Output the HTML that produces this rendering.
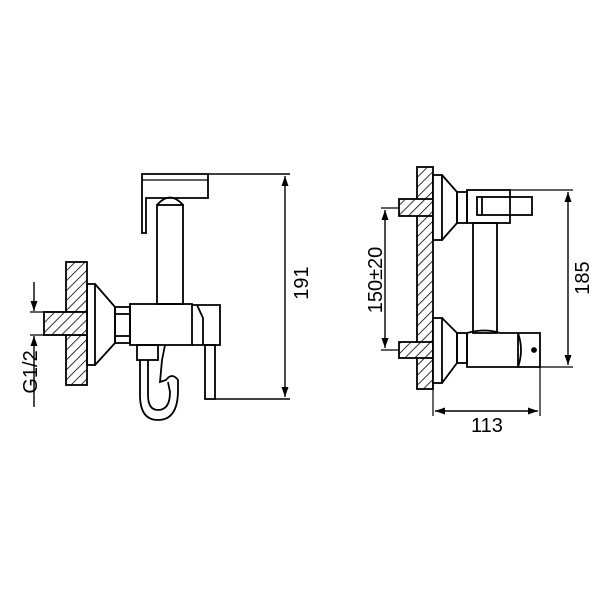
<!DOCTYPE html>
<html><head><style>html,body{margin:0;padding:0;background:#fff}</style></head>
<body>
<svg width="600" height="600" viewBox="0 0 600 600" xmlns="http://www.w3.org/2000/svg" font-family="Liberation Sans, sans-serif">
<defs>
<pattern id="h" width="7" height="7" patternUnits="userSpaceOnUse" patternTransform="rotate(45)">
<rect width="7" height="7" fill="#fff"/><line x1="0" y1="0" x2="0" y2="7" stroke="#000" stroke-width="1.6"/>
</pattern>
<marker id="a" markerWidth="12" markerHeight="10" refX="10" refY="5" orient="auto-start-reverse" markerUnits="userSpaceOnUse">
<path d="M0,1.5 L10,5 L0,8.5 Z" fill="#000"/></marker>
</defs>
<g fill="none" stroke="#000" stroke-width="1.8">
<!-- LEFT -->
<rect x="66" y="262" width="21" height="50" fill="url(#h)"/>
<rect x="66" y="335" width="21" height="50" fill="url(#h)"/>
<rect x="44" y="312" width="43" height="23" fill="url(#h)"/>
<rect x="87" y="284" width="8" height="81"/>
<path d="M95,284 L115,307 L115,343 L95,365"/>
<rect x="115" y="307" width="15" height="36"/>
<line x1="115" y1="314" x2="130" y2="314"/><line x1="115" y1="336" x2="130" y2="336"/>
<rect x="130" y="304" width="62" height="41"/>
<path d="M192,305 L220,305 L220,345 L192,345"/>
<path d="M197,305 L203,318 L203,345"/>
<rect x="205" y="345" width="10" height="54"/>
<line x1="215" y1="399" x2="290" y2="399" stroke-width="1.4"/>
<rect x="157" y="205" width="26" height="99"/>
<path d="M157,205 Q170,190 183,205"/>
<path d="M142,174 L208,174 L208,198 L146,198 L146,233 L142,233 Z"/>
<line x1="142" y1="180" x2="208" y2="180" stroke-width="1.2"/>
<line x1="208" y1="174" x2="290" y2="174" stroke-width="1.4"/>
<rect x="137" y="345" width="21" height="15"/>
<path d="M140,360 L140,395 Q140,420 158,420 Q178,420 178,390 L178,380 Q172,372 166,380 L160,382 L162,360"/>
<path d="M148,360 L148,395 Q148,410 158,410 Q170,410 170,392 L168,382"/>
<line x1="162" y1="360" x2="165" y2="345"/>
<line x1="285" y1="176" x2="285" y2="397" stroke-width="1.4" marker-start="url(#a)" marker-end="url(#a)"/>
<line x1="30" y1="312" x2="66" y2="312" stroke-width="1.2"/>
<line x1="30" y1="335" x2="66" y2="335" stroke-width="1.2"/>
<line x1="34" y1="282" x2="34" y2="311" stroke-width="1.4" marker-end="url(#a)"/>
<line x1="34" y1="407" x2="34" y2="336" stroke-width="1.4" marker-end="url(#a)"/>
<!-- RIGHT -->
<rect x="417" y="167" width="16" height="222" fill="url(#h)"/>
<rect x="399" y="199" width="34" height="17" fill="url(#h)"/>
<rect x="399" y="342" width="34" height="16" fill="url(#h)"/>
<rect x="433" y="175" width="9" height="65" fill="#fff"/>
<path d="M442,175 L457,192 L457,223 L442,240"/>
<rect x="457" y="192" width="10" height="31"/>
<rect x="433" y="318" width="9" height="65" fill="#fff"/>
<path d="M442,318 L457,333 L457,363 L442,383"/>
<rect x="457" y="333" width="10" height="30"/>
<rect x="467" y="190" width="43" height="33"/>
<rect x="477" y="197" width="55" height="18"/>
<line x1="482" y1="197" x2="482" y2="215"/>
<rect x="473" y="223" width="24" height="110"/>
<path d="M467,333 Q485,328 500,333 L518,333 L518,367 L467,367 Z"/>
<path d="M518,333 L540,333 L540,367 L518,367 Q524,350 518,333"/>
<circle cx="534" cy="350" r="2" fill="#000"/>
<line x1="510" y1="190" x2="573" y2="190" stroke-width="1.2"/>
<line x1="540" y1="367" x2="573" y2="367" stroke-width="1.2"/>
<line x1="568" y1="192" x2="568" y2="365" stroke-width="1.4" marker-start="url(#a)" marker-end="url(#a)"/>
<line x1="381" y1="208" x2="399" y2="208" stroke-width="1.2"/>
<line x1="381" y1="350" x2="399" y2="350" stroke-width="1.2"/>
<line x1="385" y1="210" x2="385" y2="348" stroke-width="1.4" marker-start="url(#a)" marker-end="url(#a)"/>
<line x1="433" y1="383" x2="433" y2="416" stroke-width="1.2"/>
<line x1="540" y1="367" x2="540" y2="416" stroke-width="1.2"/>
<line x1="435" y1="411" x2="538" y2="411" stroke-width="1.4" marker-start="url(#a)" marker-end="url(#a)"/>
</g>
<g font-size="20" fill="#000" text-anchor="middle">
<text transform="translate(308,283) rotate(-90)">191</text>
<text transform="translate(37,372) rotate(-90)">G1/2</text>
<text transform="translate(589,278) rotate(-90)">185</text>
<text transform="translate(382,280) rotate(-90)">150±20</text>
<text x="487" y="432">113</text>
</g>
</svg>
</body></html>
